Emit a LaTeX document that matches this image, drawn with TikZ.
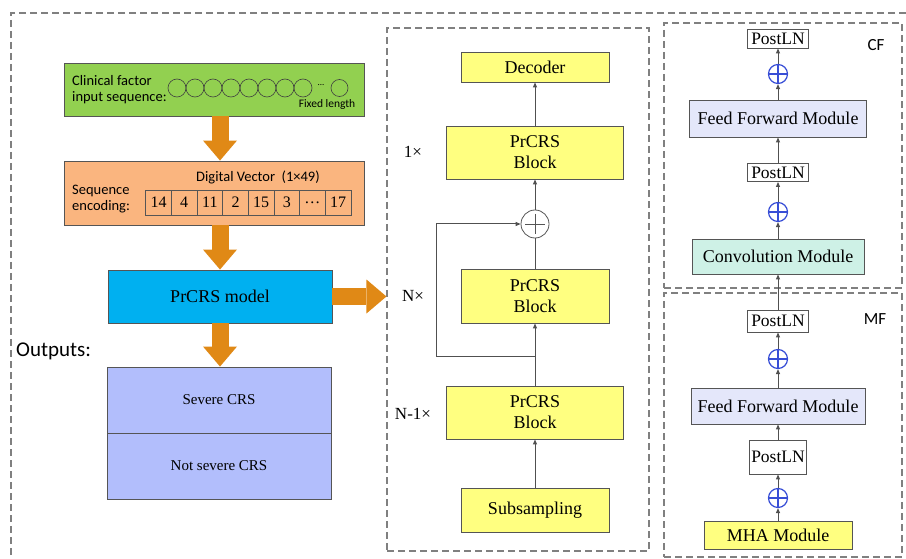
\documentclass[tikz,border=0pt]{standalone}
\usepackage{fontspec}
\setmainfont{Liberation Serif}
\newfontfamily\uifont{Carlito}
\usetikzlibrary{arrows.meta,positioning,calc}
\definecolor{clingreen}{RGB}{146,208,80}
\definecolor{encorange}{RGB}{250,181,127}
\definecolor{arroworange}{RGB}{224,137,22}
\definecolor{modelblue}{RGB}{0,176,240}
\definecolor{outblue}{RGB}{178,190,252}
\definecolor{blkyellow}{RGB}{255,255,128}
\definecolor{ffmlilac}{RGB}{228,231,250}
\definecolor{convteal}{RGB}{206,241,230}
\definecolor{plusblue}{RGB}{56,78,214}
\definecolor{framegray}{RGB}{128,128,128}
\definecolor{boxgray}{RGB}{85,85,85}
\definecolor{linegray}{RGB}{80,80,80}
\tikzset{
  frame/.style    = {draw=framegray,line width=1.1pt,dash pattern=on 7pt off 4pt},
  stage/.style    = {rectangle,draw=boxgray,line width=0.9pt,align=center,inner sep=2pt,font=\fontsize{18}{21}\selectfont},
  blk/.style      = {stage,fill=blkyellow},
  post/.style     = {stage,fill=white,inner sep=0pt,font=\fontsize{17.5}{18}\selectfont},
  cell/.style     = {rectangle,draw=boxgray,line width=0.7pt,inner sep=0pt,minimum width=25.66pt,minimum height=25pt,font=\fontsize{16}{16}\selectfont},
  uitext/.style   = {inner sep=0pt,font=\uifont\fontsize{14.5}{16}\selectfont},
  reps/.style     = {inner sep=0pt,font=\fontsize{17}{17}\selectfont},
  seqcirc/.style  = {draw=black!75,line width=0.6pt},
  fat/.style      = {draw=arroworange,line width=17pt,-{Triangle[length=20pt,width=34pt,line width=0pt]}},
  thin/.style     = {draw=linegray,line width=1pt,-{Triangle[length=5pt,width=4pt]}},
  plain/.style    = {draw=linegray,line width=1pt},
  addop/.style    = {circle,draw=plusblue,line width=1.2pt,minimum size=19pt,inner sep=0pt,
                     path picture={\draw[plusblue,line width=1.2pt]
                       (path picture bounding box.north) -- (path picture bounding box.south)
                       (path picture bounding box.west) -- (path picture bounding box.east);}},
  addgray/.style  = {addop,draw=boxgray,line width=0.8pt,minimum size=28pt,
                     path picture={\draw[boxgray,line width=0.8pt]
                       ($(path picture bounding box.north)+(0,-4pt)$) -- ($(path picture bounding box.south)+(0,4pt)$)
                       ($(path picture bounding box.west)+(4pt,0)$) -- ($(path picture bounding box.east)+(-4pt,0)$);}},
}
\begin{document}
\begin{tikzpicture}[x=1pt,y=-1pt]
\useasboundingbox (0,0) rectangle (906,559);
% outer frame, open to the right and bottom
\draw[frame] (906,13) -- (11,13) -- (11,559);

% ---- left column: input, encoding, model, outputs
\node[stage,fill=clingreen,minimum width=300pt,minimum height=53pt] (clin) at (214,89.5) {};
\node[uitext,anchor=west,align=left] (clintxt) at (72,90) {Clinical factor\\input sequence:};
\foreach \i in {0,...,7}
  \draw[seqcirc] (177+18*\i,88) circle (9pt);
\node[uitext,font=\uifont\fontsize{9}{9}\selectfont] (dots) at (321,85) {...};
\draw[seqcirc] (339.5,88) circle (8.5pt);
\node[uitext,font=\uifont\fontsize{11.5}{12}\selectfont] (fixed) at (327,104) {Fixed length};

\node[stage,fill=encorange,minimum width=300pt,minimum height=64pt] (enc) at (214,193) {};
\node[uitext] (dvec) at (258,177) {Digital Vector~~(1×49)};
\node[uitext,anchor=west,align=left] (enctxt) at (72,199) {Sequence\\encoding:};
\foreach \v [count=\k] in {14,4,11,2,15,3,\dots,17}
  \node[cell] (c\k) at ({145.7+25.66*(\k-0.5)},202.5) {\v};

\node[stage,fill=modelblue,minimum width=224pt,minimum height=53pt] (model) at (220,296.5) {PrCRS model};
\node[uitext,anchor=west,font=\uifont\fontsize{21}{21}\selectfont] (outlbl) at (16,351) {Outputs:};
\node[stage,fill=outblue,minimum width=224pt,minimum height=66pt,font=\fontsize{15}{15}\selectfont] (sev) at (219,400) {Severe CRS};
\node[stage,fill=outblue,minimum width=224pt,minimum height=66pt,font=\fontsize{15}{15}\selectfont] (notsev) at (219,466) {Not severe CRS};

% ---- middle column: block stack
\node[frame,minimum width=262pt,minimum height=523pt] (mid) at (518,289.5) {};
\node[blk,minimum width=148pt,minimum height=30pt] (dec) at (535,67) {Decoder};
\node[blk,minimum width=177pt,minimum height=53pt] (blk1) at (535,152.5) {PrCRS\\Block};
\node[addgray] (join) at (535,224) {};
\node[blk,minimum width=148pt,minimum height=54pt] (blk2) at (535,296) {PrCRS\\Block};
\node[blk,minimum width=177pt,minimum height=53pt] (blk3) at (535,412.5) {PrCRS\\Block};
\node[blk,minimum width=148pt,minimum height=44pt] (sub) at (535,510) {Subsampling};
\node[reps] (r1) at (413,152) {1×};
\node[reps] (rn) at (413,296) {N×};
\node[reps] (rn1) at (413,414) {N-1×};
\coordinate (split) at (535,356);
\coordinate (skip) at (436,356);

% ---- right column: CF and MF
\node[frame,minimum width=238pt,minimum height=265pt] (cf) at (783,155.5) {};
\node[frame,minimum width=238pt,minimum height=264pt] (mf) at (783,425) {};
\node[uitext,font=\uifont\fontsize{17}{17}\selectfont] (cflbl) at (876,45) {CF};
\node[uitext,font=\uifont\fontsize{17}{17}\selectfont] (mflbl) at (875,319) {MF};

\node[post,minimum width=61pt,minimum height=19pt] (cfpost2) at (778,38.5) {PostLN};
\node[addop] (cfadd2) at (778,74) {};
\node[stage,fill=ffmlilac,minimum width=177pt,minimum height=37pt] (cfffm) at (778,118.5) {Feed Forward Module};
\node[post,minimum width=61pt,minimum height=18pt] (cfpost1) at (778,172.5) {PostLN};
\node[addop] (cfadd1) at (778,212) {};
\node[stage,fill=convteal,minimum width=172pt,minimum height=35pt] (conv) at (778,256.5) {Convolution Module};

\node[post,minimum width=61pt,minimum height=22pt] (mfpost2) at (778,321) {PostLN};
\node[addop] (mfadd2) at (778,359) {};
\node[stage,fill=ffmlilac,minimum width=174pt,minimum height=36pt] (mfffm) at (778,406) {Feed Forward Module};
\node[post,minimum width=57pt,minimum height=34pt] (mfpost1) at (778,457) {PostLN};
\node[addop] (mfadd1) at (778,498) {};
\node[blk,minimum width=148pt,minimum height=28pt] (mha) at (778,535) {MHA Module};

% fat arrows
\draw[fat] (clin.south -| model) -- (enc.north -| model);
\draw[fat] (enc.south -| model) -- (model.north);
\draw[fat] (model.south) -- (sev.north -| model);
\draw[fat] (model.east) -- (mid.west |- model.east);

% stack connectors
\draw[thin] (sub) -- (blk3);
\draw[plain] (blk3) -- (split);
\draw[thin] (split) -- (blk2);
\draw[thin] (split) -- (skip) |- (join);
\draw[plain] (blk2) -- (join);
\draw[thin] (join) -- (blk1);
\draw[thin] (blk1) -- (dec);

% CF / MF connectors
\draw[thin] (mha) -- (mfadd1);
\draw[thin] (mfadd1) -- (mfpost1);
\draw[thin] (mfpost1) -- (mfffm);
\draw[thin] (mfffm) -- (mfadd2);
\draw[thin] (mfadd2) -- (mfpost2);
\draw[thin] (mfpost2) -- (conv);
\draw[thin] (conv) -- (cfadd1);
\draw[thin] (cfadd1) -- (cfpost1);
\draw[thin] (cfpost1) -- (cfffm);
\draw[thin] (cfffm) -- (cfadd2);
\draw[thin] (cfadd2) -- (cfpost2);
\end{tikzpicture}
\end{document}
